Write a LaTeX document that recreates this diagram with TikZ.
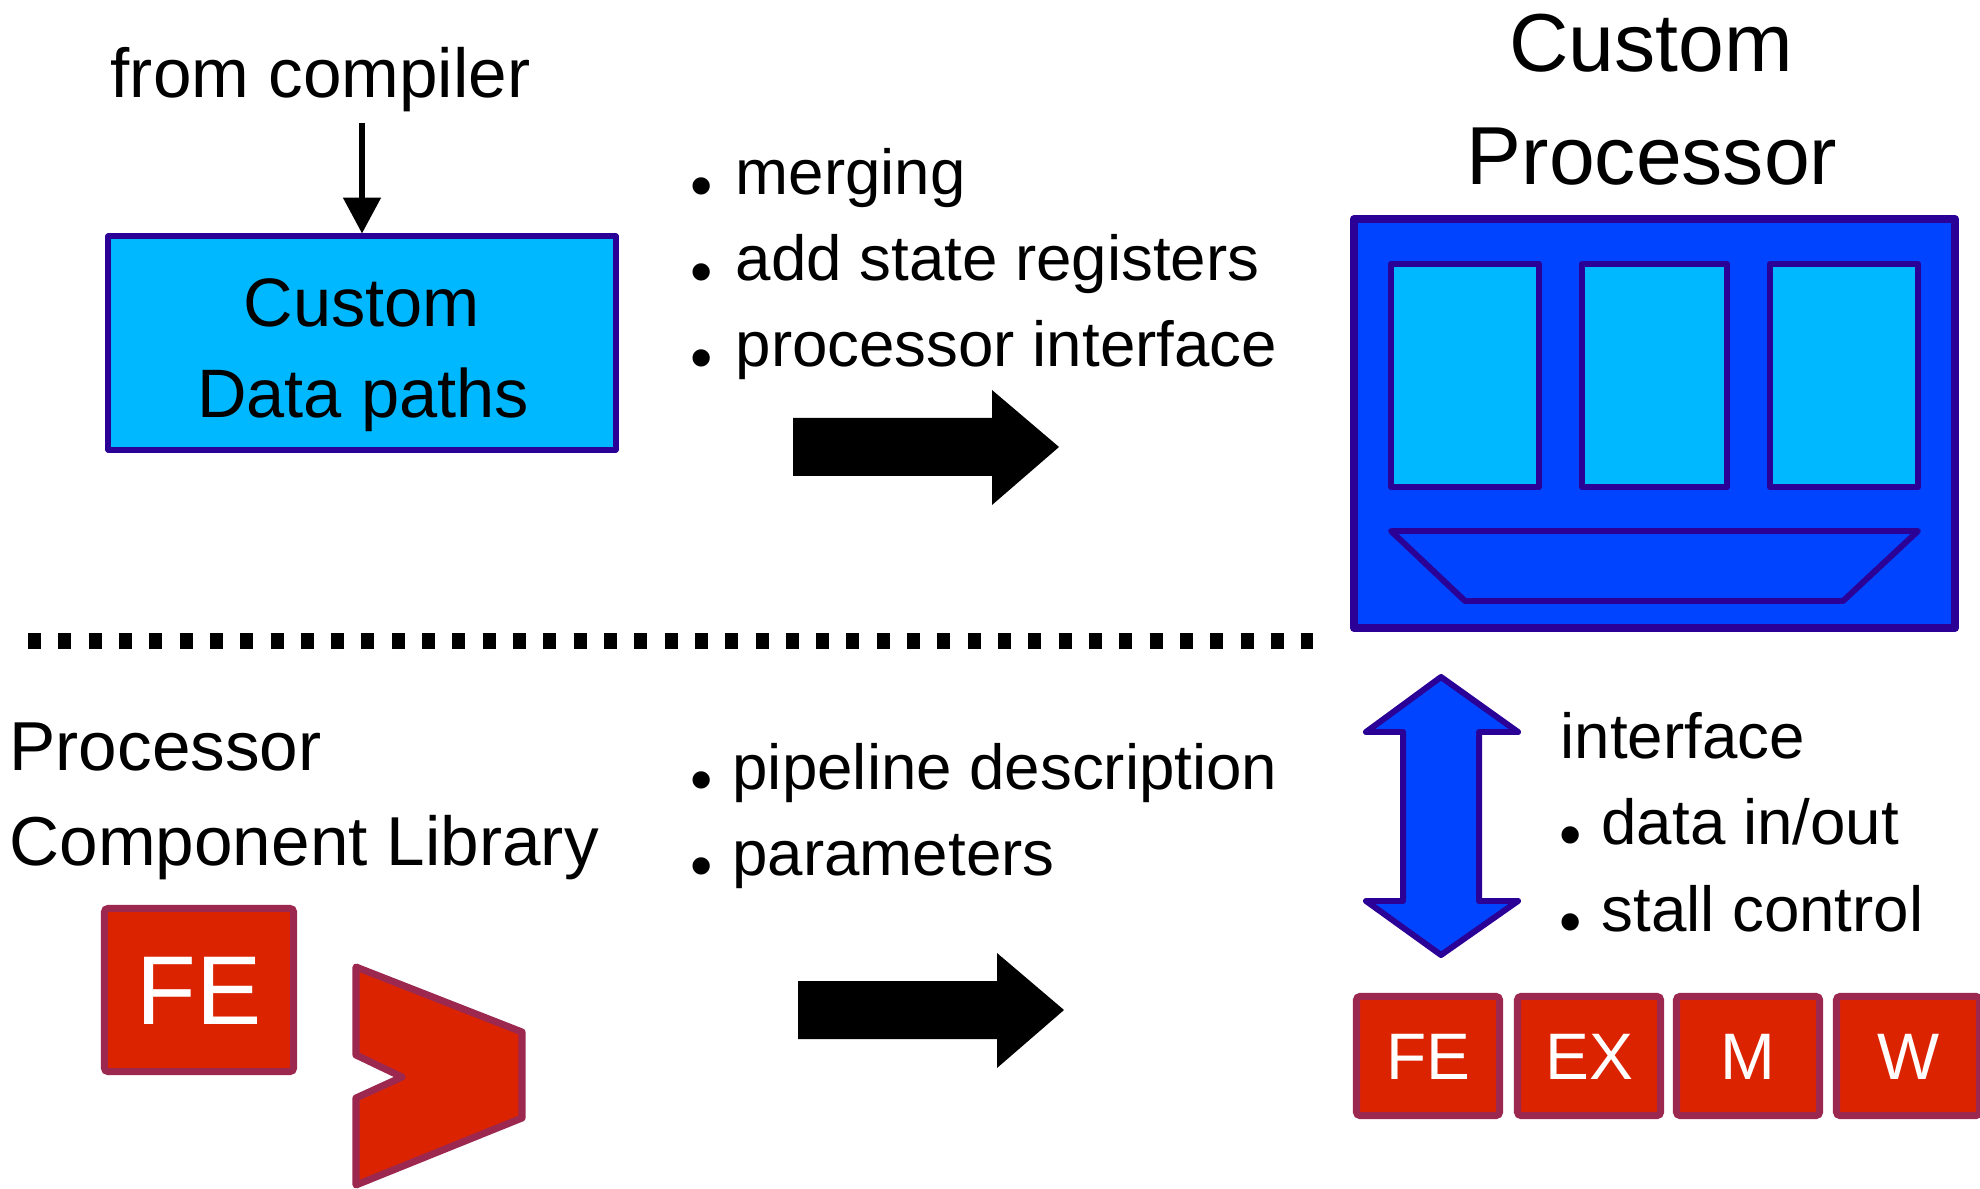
\documentclass[tikz,border=0pt]{standalone}
\usepackage{fontspec}
\setmainfont{Liberation Sans}
\usetikzlibrary{arrows.meta}
\definecolor{dpfill}{HTML}{00B8FF}
\definecolor{procfill}{HTML}{0044FF}
\definecolor{indigo}{HTML}{2A0096}
\definecolor{stagefill}{HTML}{DC2300}
\definecolor{stageedge}{HTML}{9C2850}
% lowered bullet followed by a fixed gap
\newcommand\bul[1]{\makebox[#1][l]{\raisebox{-3.6pt}{•}}}
\begin{document}
\begin{tikzpicture}[x=0.01cm, y=-0.01cm,
  txt/.style={inner sep=0, anchor=base west},
  list/.style={txt, font=\fontsize{18.1}{20}\selectfont},
  big/.style={inner sep=0, anchor=base, font=\fontsize{23.4}{26}\selectfont},
  stage/.style={draw=stageedge, fill=stagefill, line width=2pt, rounded corners=1pt,
    text=white, inner sep=0, minimum width=1.43cm, minimum height=1.19cm,
    text height=13.4pt, text depth=0pt, font=\fontsize{18.7}{20}\selectfont},
  blk/.style={draw=indigo, line width=1.7pt, line join=round},
  bigarrow/.style={fill=black}]
\clip (0,0) rectangle (1980,1189);

% ---- upper half: custom data paths ----
\node[txt, font=\fontsize{19.7}{22}\selectfont] (fc) at (110,98) {from compiler};
\node[blk, fill=dpfill, minimum width=5.07cm, minimum height=2.13cm, inner sep=0] (dp) at (362,343) {};
\node[inner sep=0, anchor=base, font=\fontsize{19.5}{22}\selectfont] (dp1) at (362,327) {Custom};
\node[inner sep=0, anchor=base, font=\fontsize{19.5}{22}\selectfont] (dp2) at (363,418) {Data paths};
\coordinate (src) at (362,123);
\draw[line width=1.5pt, -{Triangle[width=10.5pt,length=10.2pt]}] (src) -- (dp.north);

% steps applied to the data paths
\node[list] (m1) at (690,195) {\bul{12.8pt}merging};
\node[list] (m2) at (690,281) {\bul{12.8pt}add state registers};
\node[list] (m3) at (690,367) {\bul{12.8pt}processor interface};
\fill[bigarrow] (793,418) -- (992,418) -- (992,390) -- (1059,447) -- (992,505) -- (992,476) -- (793,476) -- cycle;

% custom processor
\node[big] (t1) at (1651,72) {Custom};
\node[big] (t2) at (1652,185) {Processor};
\draw[blk, line width=2.3pt, fill=procfill] (1354,219) rectangle (1955,628);
\draw[blk, fill=dpfill] (1391,264) rectangle (1539,487);
\draw[blk, fill=dpfill] (1582,264) rectangle (1727,487);
\draw[blk, fill=dpfill] (1770,264) rectangle (1918,487);
\draw[blk, fill=procfill] (1391,531) -- (1918,531) -- (1843,601) -- (1465,601) -- cycle;

% separator
\draw[line width=4.3pt, dash pattern=on 3.7pt off 4.92pt] (28,641) -- (1313,641);

% ---- lower half: processor component library ----
\node[txt, font=\fontsize{19.7}{22}\selectfont] (pl1) at (9,770) {Processor};
\node[txt, font=\fontsize{19.7}{22}\selectfont] (pl2) at (9,865) {Component Library};
\node[stage, minimum width=1.89cm, minimum height=1.63cm, text height=19.9pt,
  font=\fontsize{27.8}{30}\selectfont] (fe0) at (199,990) {FE};
\draw[draw=stageedge, fill=stagefill, line width=2pt, line join=round]
  (356,967) -- (522,1032) -- (522,1118) -- (356,1185) -- (356,1098) -- (402,1077) -- (356,1055) -- cycle;

\node[list] (p1) at (690,789) {\bul{11.9pt}pipeline description};
\node[list] (p2) at (690,875) {\bul{11.9pt}parameters};
\fill[bigarrow] (798,981) -- (997,981) -- (997,953) -- (1064,1010) -- (997,1068) -- (997,1039) -- (798,1039) -- cycle;

% interface arrow and notes
\draw[blk, fill=procfill]
  (1441,677) -- (1518,732) -- (1479,732) -- (1479,901) -- (1518,901) -- (1441,955)
  -- (1366,901) -- (1403,901) -- (1403,732) -- (1366,732) -- cycle;
\node[list] (i0) at (1560,758) {interface};
\node[list] (i1) at (1559,844) {\bul{11.9pt}data in/out};
\node[list] (i2) at (1559,931) {\bul{11.9pt}stall control};

% pipeline stages
\node[stage] (fe) at (1428,1056) {FE};
\node[stage] (ex) at (1589,1056) {EX};
\node[stage] (mm) at (1748,1056) {M};
\node[stage] (wb) at (1908,1056) {W};
\end{tikzpicture}
\end{document}
